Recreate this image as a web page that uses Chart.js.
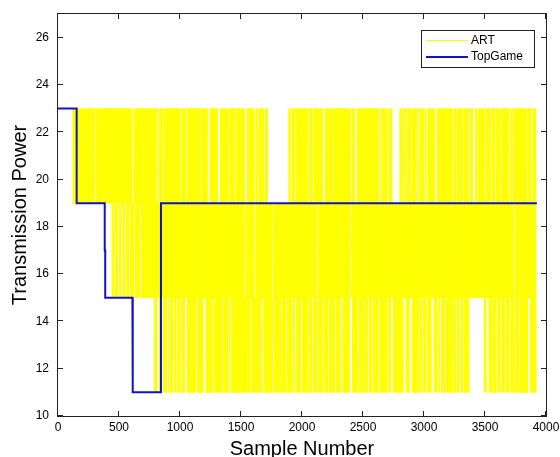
<!DOCTYPE html>
<html>
<head>
<meta charset="utf-8">
<script src="https://cdn.jsdelivr.net/npm/chart.js@4.4.0/dist/chart.umd.min.js"></script>
<style>
  html, body { margin: 0; padding: 0; background: #fff; }
</style>
</head>
<body>
<canvas id="myChart" width="560" height="457"></canvas>
<script>
// tick values of both axes
var xTicks = [0, 500, 1000, 1500, 2000, 2500, 3000, 3500, 4000];
var yTicks = [10, 12, 14, 16, 18, 20, 22, 24, 26];

// TopGame: step line (sample number, power)
var topGameX = [0, 153, 153, 383, 383, 387, 387, 610, 610, 614, 614, 844, 844, 3925];
var topGameY = [23, 23, 19, 19, 17, 17, 15, 15, 13, 13, 11, 11, 19, 19];

// ART: one letter for each block of 10 samples = the power range the signal covers in that block
// 3 = stays at 23, u = 19-23, m = 15-19, l = 11-15, a = 15-23, b = 11-19, c = 11-23
var artBlock = 10;
var artLevels = { '3': [23, 23], u: [19, 23], m: [15, 19], l: [11, 15], a: [15, 23], b: [11, 19], c: [11, 23] };
var artCodes = [
  '333333333333uuuuuuuuuuuuuuuuuu3uuuuuuuuuuuuuaauaau', // 0 - 490
  'aauaauaauaamuaaaauaaaaaaaaaaacbamccabccacaccaccacc', // 500 - 990
  'abccamcccccccacccbcaaccbbccacccbbcaccccmcacccbcccc', // 1000 - 1490
  'ccclbccaccclccbcacabccbbblmbbbbbbmbbbmbccbacmcccca', // 1500 - 1990
  'cccccmccabccuccccmbccacccbcacccacacccccumccbbcaccc', // 2000 - 2490
  'caccaccacccccmcbccccmccambbbbbcccmabccamccccbcmcac', // 2500 - 2990
  'bcmcccaacbbacacccaccccccmcmccaccmccccmaammamaaaaac', // 3000 - 3490
  'baaccbacbaccmcccacccmccbucccacccccbaacbccc'          // 3500 - 3910
].join('');

var topGamePoints = topGameX.map(function(x, i) { return { x: x, y: topGameY[i] }; });

// each block is drawn as a short zig-zag between its low and high level
var artPoints = [];
for (var i = 0; i < artCodes.length; i++) {
  var lv = artLevels[artCodes[i]];
  var x0 = i * artBlock;
  artPoints.push({ x: x0 + 1, y: lv[1] }, { x: x0 + 3.7, y: lv[0] }, { x: x0 + 6.3, y: lv[1] }, { x: x0 + 9, y: lv[0] });
  artPoints.push({ x: x0 + 9.5, y: null });
}

var fontFamily = "'Liberation Sans', Arial, Helvetica, sans-serif";

// box round the plot with inward tick marks
var boxPlugin = {
  id: 'box',
  afterDatasetsDraw: function(chart) {
    var a = chart.chartArea, c = chart.ctx;
    var xs = chart.scales.x, ys = chart.scales.y;
    c.save();
    c.strokeStyle = '#222';
    c.lineWidth = 1;
    c.strokeRect(a.left - 0.5, a.top - 0.5, a.right - a.left + 1, a.bottom - a.top + 1);
    c.beginPath();
    xTicks.forEach(function(v) {
      var px = Math.round(xs.getPixelForValue(v)) - 0.5;
      c.moveTo(px, a.bottom); c.lineTo(px, a.bottom - 5);
      c.moveTo(px, a.top); c.lineTo(px, a.top + 5);
    });
    yTicks.forEach(function(v) {
      var py = Math.round(ys.getPixelForValue(v)) - 0.5;
      c.moveTo(a.left, py); c.lineTo(a.left + 5, py);
      c.moveTo(a.right, py); c.lineTo(a.right - 5, py);
    });
    c.stroke();
    c.restore();
  }
};

// legend box in the upper right corner
var legendPlugin = {
  id: 'boxLegend',
  afterDraw: function(chart) {
    var a = chart.chartArea, c = chart.ctx;
    var right = a.right - 12, top = a.top + 16, w = 113, h = 37;
    var left = right - w;
    c.save();
    c.fillStyle = '#fff';
    c.fillRect(left, top, w, h);
    c.strokeStyle = '#222';
    c.lineWidth = 1;
    c.strokeRect(left + 0.5, top + 0.5, w, h);
    c.font = '12px ' + fontFamily;
    c.textBaseline = 'middle';
    c.fillStyle = '#000';
    chart.data.datasets.forEach(function(ds, k) {
      var y = top + 10.5 + k * 16.5;
      c.beginPath();
      c.strokeStyle = ds.borderColor;
      c.lineWidth = ds.legendWidth;
      c.moveTo(left + 5, y); c.lineTo(left + 47, y);
      c.stroke();
      c.fillText(ds.label, left + 50, y);
    });
    c.restore();
  }
};

function plainTick(value) { return String(value); }

var ctx = document.getElementById('myChart').getContext('2d');
var myChart = new Chart(ctx, {
  type: 'line',
  data: {
    datasets: [
      {
        label: 'ART',
        data: artPoints,
        borderColor: '#ffff00',
        borderWidth: 0.9,
        legendWidth: 1,
        borderJoinStyle: 'bevel',
        pointRadius: 0,
        spanGaps: false,
        order: 2
      },
      {
        label: 'TopGame',
        data: topGamePoints,
        borderColor: '#1212c8',
        borderWidth: 2,
        legendWidth: 2,
        pointRadius: 0,
        order: 1
      }
    ]
  },
  options: {
    responsive: false,
    animation: false,
    devicePixelRatio: 1,
    layout: { padding: { top: 14, right: 14, left: 0, bottom: 0 } },
    plugins: { legend: { display: false }, tooltip: { enabled: false } },
    scales: {
      x: {
        type: 'linear',
        min: 0,
        max: 4000,
        afterBuildTicks: function(s) { s.ticks = xTicks.map(function(v) { return { value: v }; }); },
        afterFit: function(s) { s.height = 41; s.paddingLeft = 0; s.paddingRight = 0; },
        grid: { display: false, drawTicks: false },
        border: { display: false },
        ticks: { color: '#000', padding: 4, maxRotation: 0, autoSkip: false, callback: plainTick, font: { family: fontFamily, size: 12 } },
        title: { display: true, text: 'Sample Number', color: '#000', padding: { top: 0, bottom: 0 }, font: { family: fontFamily, size: 20, lineHeight: 0.8 } }
      },
      y: {
        type: 'linear',
        min: 10,
        max: 27,
        afterBuildTicks: function(s) { s.ticks = yTicks.map(function(v) { return { value: v }; }); },
        afterFit: function(s) { s.width = 58; s.paddingTop = 0; s.paddingBottom = 0; },
        grid: { display: false, drawTicks: false },
        border: { display: false },
        ticks: { color: '#000', padding: 9, autoSkip: false, callback: plainTick, font: { family: fontFamily, size: 12 } },
        title: { display: true, text: 'Transmission Power', color: '#000', padding: { top: 8, bottom: 0 }, font: { family: fontFamily, size: 20, lineHeight: 1.2 } }
      }
    }
  },
  plugins: [boxPlugin, legendPlugin]
});
</script>
</body>
</html>
